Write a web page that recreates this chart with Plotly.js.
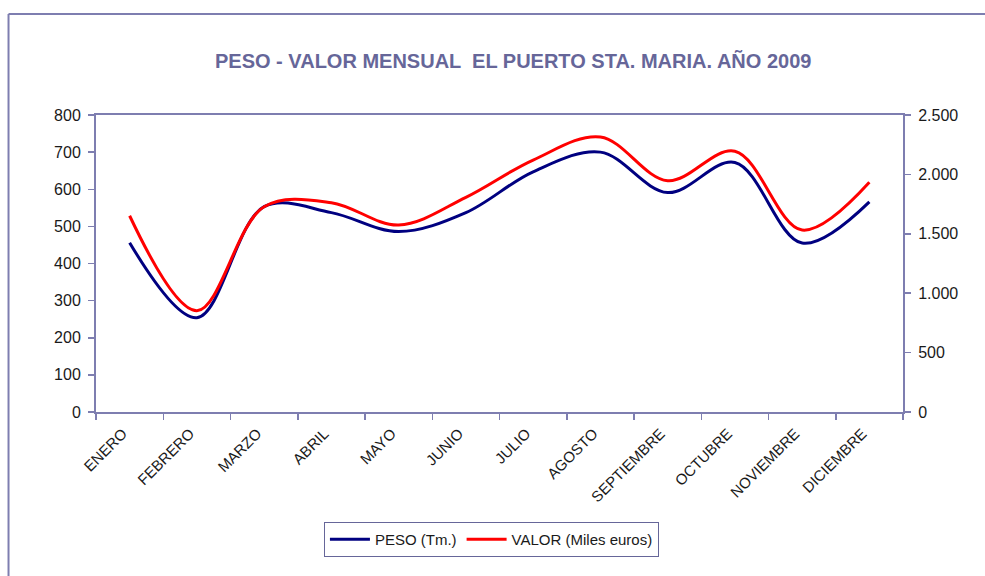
<!DOCTYPE html>
<html>
<head>
<meta charset="utf-8">
<script src="https://cdn.plot.ly/plotly-3.0.1.min.js"></script>
<style>
  html, body { margin: 0; padding: 0; background: #ffffff; }
  #chart { width: 985px; height: 576px; }
</style>
</head>
<body>
<div id="chart"></div>
<script>
const months = ["ENERO", "FEBRERO", "MARZO", "ABRIL", "MAYO", "JUNIO", "JULIO", "AGOSTO", "SEPTIEMBRE", "OCTUBRE", "NOVIEMBRE", "DICIEMBRE"];
const peso = [456, 254, 553, 537, 486, 537, 647, 700, 591, 672, 455, 566];
const valor = [1652, 853, 1728, 1762, 1574, 1807, 2121, 2315, 1947, 2195, 1532, 1933];
const leftTicks = [0, 100, 200, 300, 400, 500, 600, 700, 800];
const rightTicks = [0, 500, 1000, 1500, 2000, 2500];

const axisColor = "#7e7eb0";
const textFont = { family: "Liberation Sans, Arial, sans-serif", size: 15, color: "#1a1a1a" };
const yTickFont = { family: "Liberation Sans, Arial, sans-serif", size: 16, color: "#1a1a1a" };

const traces = [
  {
    x: months, y: peso, name: "PESO (Tm.)", type: "scatter", mode: "lines",
    line: { color: "#000080", width: 3, shape: "spline", smoothing: 1 },
    yaxis: "y"
  },
  {
    x: months, y: valor, name: "VALOR (Miles euros)", type: "scatter", mode: "lines",
    line: { color: "#ff0000", width: 3, shape: "spline", smoothing: 1 },
    yaxis: "y2"
  }
];

const layout = {
  width: 985, height: 576,
  separators: ",.",
  paper_bgcolor: "#ffffff", plot_bgcolor: "#ffffff",
  margin: { l: 96, r: 82, t: 115, b: 164 },
  font: textFont,
  title: {
    text: "<b>PESO - VALOR MENSUAL  EL PUERTO STA. MARIA. AÑO 2009</b>",
    font: { family: "Liberation Sans Narrow, Arial Narrow, sans-serif", size: 20, color: "#666699" },
    x: 0.521, xref: "container", xanchor: "center",
    y: 0.894, yref: "container", yanchor: "middle"
  },
  xaxis: {
    type: "category", categoryorder: "array", categoryarray: months,
    range: [-0.5, 11.5], tickson: "boundaries",
    ticks: "outside", ticklen: 6, tickcolor: axisColor, tickwidth: 1.5,
    showline: true, linecolor: axisColor, linewidth: 2, mirror: true,
    showgrid: false, zeroline: false, tickangle: -45,
    ticklabelshift: -7, ticklabelstandoff: 5,
    tickfont: textFont, fixedrange: true
  },
  yaxis: {
    range: [0, 800], tickvals: leftTicks, ticktext: leftTicks.map(String),
    ticks: "outside", ticklen: 6, tickcolor: axisColor, tickwidth: 1.5,
    showline: true, linecolor: axisColor, linewidth: 2,
    showgrid: false, zeroline: false, tickfont: yTickFont, ticklabelstandoff: 4
  },
  yaxis2: {
    overlaying: "y", side: "right",
    range: [0, 2500], tickvals: rightTicks, tickformat: ",d",
    ticks: "outside", ticklen: 6, tickcolor: axisColor, tickwidth: 1.5,
    showline: true, linecolor: axisColor, linewidth: 2,
    showgrid: false, zeroline: false, tickfont: yTickFont, ticklabelstandoff: 4
  },
  showlegend: true,
  legend: {
    orientation: "h", x: 0.49, xanchor: "center", y: -0.37, yanchor: "top",
    bordercolor: "#666699", borderwidth: 1, bgcolor: "#ffffff",
    font: textFont, itemwidth: 40, tracegroupgap: 0
  },
  shapes: [
    { type: "line", xref: "paper", yref: "paper", x0: -0.1084, x1: 1.2, y0: 1.34, y1: 1.34,
      line: { color: axisColor, width: 2 } },
    { type: "line", xref: "paper", yref: "paper", x0: -0.1084, x1: -0.1084, y0: 1.34, y1: -0.6,
      line: { color: axisColor, width: 2 } }
  ]
};

Plotly.newPlot("chart", traces, layout, { displayModeBar: false, staticPlot: true });
</script>
</body>
</html>
